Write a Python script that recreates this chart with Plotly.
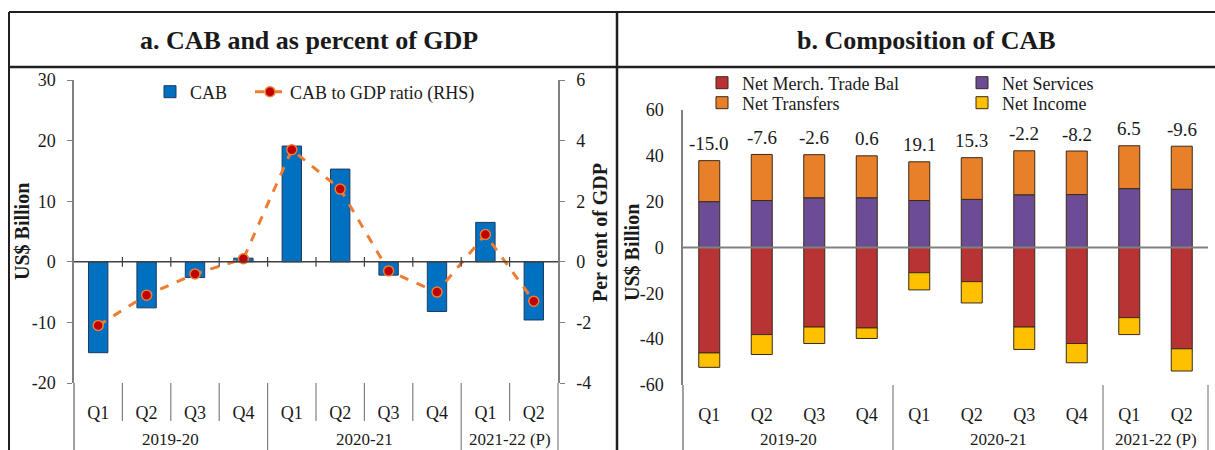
import plotly.graph_objects as go

# ---------------- data ----------------
quarters = ["Q1", "Q2", "Q3", "Q4", "Q1", "Q2", "Q3", "Q4", "Q1", "Q2"]
years = ["2019-20", "2020-21", "2021-22 (P)"]
year_sizes = [4, 4, 2]

cab = [-15.0, -7.6, -2.6, 0.6, 19.1, 15.3, -2.2, -8.2, 6.5, -9.6]
cab_gdp = [-2.1, -1.1, -0.4, 0.1, 3.7, 2.4, -0.3, -1.0, 0.9, -1.3]

merch = [-46.0, -38.0, -34.7, -35.1, -11.0, -14.9, -34.7, -41.9, -30.6, -44.2]
services = [20.0, 20.5, 21.7, 21.7, 20.5, 21.0, 23.0, 23.1, 25.7, 25.4]
transfers = [17.9, 20.1, 18.8, 18.3, 16.9, 18.2, 19.2, 19.0, 18.7, 18.8]
income = [-6.3, -8.7, -7.2, -4.6, -7.5, -9.3, -9.8, -8.4, -7.4, -9.7]

y_left_vals = [-20, -10, 0, 10, 20, 30]
y_left_text = ["-20", "-10", "0", "10", "20", "30"]
y_right_vals = [-4, -2, 0, 2, 4, 6]
y_right_text = ["-4", "-2", "0", "2", "4", "6"]
y_b_vals = [-60, -40, -20, 0, 20, 40, 60]
y_b_text = ["-60", "-40", "-20", "0", "20", "40", "60"]

# ---------------- styling ----------------
W, H = 1215, 450
FONT = "Liberation Serif"
TXT = "#1a1a1a"
AX = "#808080"


def py(px):
    return 1 - px / H


def pxx(px):
    return px / W


idx = list(range(len(quarters)))
n = len(idx)

fig = go.Figure()

# ---- panel a ----
fig.add_trace(go.Bar(
    x=idx, y=cab, name="CAB", width=0.4, showlegend=True,
    marker=dict(color="#0070C0", line=dict(color="#1F3A5F", width=1)),
    xaxis="x", yaxis="y", legend="legend",
))
fig.add_trace(go.Scatter(
    x=idx, y=cab_gdp, name="CAB to GDP ratio (RHS)", mode="lines+markers",
    showlegend=True,
    line=dict(color="#ED7D31", width=3, dash="dash"),
    marker=dict(color="#C00000", size=10, line=dict(color="#ED7D31", width=1.5)),
    xaxis="x", yaxis="y2", legend="legend6",
))

# ---- panel b ----
comp = [
    ("Net Merch. Trade Bal", merch, "#B83434", "legend2"),
    ("Net Services", services, "#6C4C94", "legend3"),
    ("Net Transfers", transfers, "#E8802A", "legend4"),
    ("Net Income", income, "#FFC000", "legend5"),
]
for name, vals, col, lg in comp:
    fig.add_trace(go.Bar(
        x=idx, y=vals, name=name, width=0.4, showlegend=True,
        marker=dict(color=col, line=dict(color="#3a2a1a", width=1)),
        xaxis="x2", yaxis="y3", legend=lg,
    ))

top = [s + t for s, t in zip(services, transfers)]

tickfont = dict(family=FONT, size=18, color=TXT)


def leg(x, y, orient="v"):
    return dict(orientation=orient, x=pxx(x), y=py(y), yanchor="middle",
                xanchor="left", bgcolor="rgba(0,0,0,0)", visible=True,
                font=dict(family=FONT, size=18, color=TXT))


fig.update_layout(
    width=W, height=H,
    showlegend=True,
    margin=dict(l=0, r=0, t=0, b=0, autoexpand=False),
    paper_bgcolor="white", plot_bgcolor="white",
    barmode="relative",
    font=dict(family=FONT, size=18, color=TXT),
    xaxis=dict(domain=[pxx(74), pxx(558)], range=[-0.5, n - 0.5],
               tickvals=idx, ticktext=quarters, ticks="", showline=False,
               showgrid=False, zeroline=False, tickfont=tickfont,
               ticklabelstandoff=17, anchor="y", automargin=False),
    yaxis=dict(domain=[py(383), py(80)], range=[-20, 30],
               tickvals=y_left_vals, ticktext=y_left_text,
               ticks="outside", ticklen=5, tickcolor=AX, showline=True,
               linecolor=AX, linewidth=1.5, showgrid=False, zeroline=False,
               tickfont=tickfont, ticklabelstandoff=8, anchor="x",
               automargin=False),
    yaxis2=dict(overlaying="y", side="right", range=[-4, 6],
                tickvals=y_right_vals, ticktext=y_right_text,
                ticks="outside", ticklen=5, tickcolor=AX, showline=True,
                linecolor=AX, linewidth=1.5, showgrid=False, zeroline=False,
                tickfont=tickfont, ticklabelstandoff=8, anchor="x",
                automargin=False),
    xaxis2=dict(domain=[pxx(683), pxx(1208)], range=[-0.5, n - 0.5],
                tickvals=idx, ticktext=quarters, ticks="", showline=False,
                showgrid=False, zeroline=False, tickfont=tickfont,
                ticklabelstandoff=17, anchor="y3", automargin=False),
    yaxis3=dict(domain=[py(385), py(110)], range=[-60, 60],
                tickvals=y_b_vals, ticktext=y_b_text,
                ticks="", showline=True, linecolor=AX, linewidth=1.5,
                showgrid=False, zeroline=False, tickfont=tickfont,
                ticklabelstandoff=14, anchor="x2", automargin=False),
    legend=leg(150, 92),
    legend6=leg(250, 92),
    legend2=leg(702, 83),
    legend3=leg(962, 83),
    legend4=leg(702, 103),
    legend5=leg(962, 103),
)

shapes = []
FR = "#231F20"
# frame / title box
shapes.append(dict(type="line", xref="paper", yref="paper", x0=pxx(9), x1=1.01, y0=py(12), y1=py(12), line=dict(color=FR, width=2)))
shapes.append(dict(type="line", xref="paper", yref="paper", x0=pxx(9), x1=1.01, y0=py(67), y1=py(67), line=dict(color=FR, width=2.5)))
shapes.append(dict(type="line", xref="paper", yref="paper", x0=pxx(9), x1=pxx(9), y0=py(12), y1=-0.01, line=dict(color=FR, width=2)))
shapes.append(dict(type="line", xref="paper", yref="paper", x0=pxx(617), x1=pxx(617), y0=py(12), y1=-0.01, line=dict(color=FR, width=2.5)))

# zero lines drawn above the bars
shapes.append(dict(type="line", xref="x domain", yref="y", x0=0, x1=1, y0=0, y1=0,
                   layer="above", line=dict(color="#404040", width=1.5)))
shapes.append(dict(type="line", xref="x2 domain", yref="y3", x0=0, x1=1, y0=0, y1=0,
                   layer="above", line=dict(color=AX, width=2)))

# category separators and group dividers
bounds = []
acc = 0
for s in year_sizes:
    acc += s
    bounds.append(acc)

for xa, ya, ybot, q_sep in (("x", "y", 383, True), ("x2", "y3", 385, False)):
    shapes.append(dict(type="line", xref=f"{xa} domain", yref="paper", x0=0, x1=0,
                       y0=py(ybot), y1=-0.01, line=dict(color=AX, width=1.5)))
    for k in range(1, n + 1):
        f = k / n
        if k in bounds:
            shapes.append(dict(type="line", xref=f"{xa} domain", yref="paper", x0=f, x1=f,
                               y0=py(ybot), y1=-0.01, line=dict(color=AX, width=1.2)))
        elif q_sep:
            shapes.append(dict(type="line", xref=f"{xa} domain", yref="paper", x0=f, x1=f,
                               y0=py(ybot), y1=py(421), line=dict(color=AX, width=1.2)))
    if q_sep:
        for k in range(1, n):
            f = k / n
            shapes.append(dict(type="line", xref=f"{xa} domain", yref=ya, x0=f, x1=f,
                               y0=-0.8, y1=0.8, layer="above",
                               line=dict(color="#404040", width=1.2)))

fig.update_layout(shapes=shapes)


def note(text, x, y, size, angle=0, xref="paper"):
    return dict(text=text, xref=xref, yref="paper", x=x, y=y, xanchor="center",
                yanchor="middle", textangle=angle, showarrow=False,
                font=dict(family=FONT, size=size, color=TXT))


ann = [
    note("<b>a. CAB and as percent of GDP</b>", pxx(309), py(40), 26),
    note("<b>b. Composition of CAB</b>", pxx(926), py(40), 26),
    note("<b>US$ Billion</b>", pxx(22), py(232), 20, -90),
    note("<b>Per cent of GDP</b>", pxx(600), py(233), 20, -90),
    note("<b>US$ Billion</b>", pxx(632), py(253), 20, -90),
]

# data labels above the stacked columns (CAB values)
for i, v, t in zip(idx, cab, top):
    ann.append(dict(text=f"{v:.1f}", xref="x2", yref="y3", x=i, y=t, yshift=17,
                    xanchor="center", yanchor="middle", showarrow=False,
                    font=dict(family=FONT, size=19, color=TXT)))

start = 0
for yname, s in zip(years, year_sizes):
    center = idx[start] + (s - 1) / 2
    for xa in ("x", "x2"):
        ann.append(note(yname, center, py(439), 17, 0, xa))
    start += s

fig.update_layout(annotations=ann)

fig.write_html("out.html", config={"displayModeBar": False},
               post_script="document.body.style.margin='0';document.body.style.overflow='hidden';")
